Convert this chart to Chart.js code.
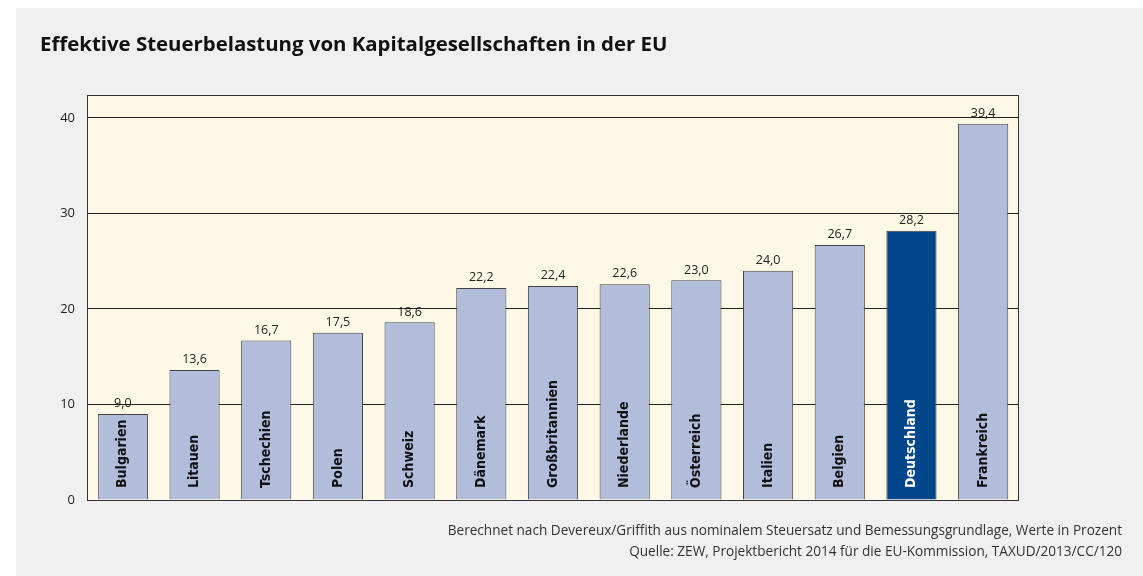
<!DOCTYPE html>
<html>
<head>
<meta charset="utf-8">
<script src="https://cdn.jsdelivr.net/npm/chart.js@4"></script>
<style>
  html, body { margin: 0; padding: 0; background: #ffffff; }
  #wrap { position: absolute; left: 16px; top: 8px; width: 1127px; height: 568px; background: #f0f0f0; }
</style>
</head>
<body>
<div id="wrap"><canvas id="chart" width="1127" height="568"></canvas></div>
<script>
// Daten
const laender = ['Bulgarien', 'Litauen', 'Tschechien', 'Polen', 'Schweiz', 'Dänemark', 'Großbritannien',
    'Niederlande', 'Österreich', 'Italien', 'Belgien', 'Deutschland', 'Frankreich'];
const belastung = [9.0, 13.6, 16.7, 17.5, 18.6, 22.2, 22.4, 22.6, 23.0, 24.0, 26.7, 28.2, 39.4];
const yTicks = [0, 10, 20, 30, 40];
const titel = 'Effektive Steuerbelastung von Kapitalgesellschaften in der EU';
const fussnoten = [
    'Berechnet nach Devereux/Griffith aus nominalem Steuersatz und Bemessungsgrundlage, Werte in Prozent',
    'Quelle: ZEW, Projektbericht 2014 für die EU-Kommission, TAXUD/2013/CC/120'
];

const hellblau = '#b1bddb';
const dunkelblau = '#00468a';
const fontText = "'Open Sans', 'Noto Sans', sans-serif";
const fontSchmal = "'DejaVu Sans Condensed', 'Liberation Sans Narrow', 'Noto Sans', sans-serif";

const fmt = v => v.toFixed(1).replace('.', ',');

// Hintergrund, Rahmen, Titel, Fussnoten und Beschriftungen
const deko = {
    id: 'deko',
    beforeDraw(chart) {
        const { ctx, chartArea: a } = chart;
        ctx.save();
        ctx.fillStyle = '#fef8e7';
        ctx.fillRect(a.left, a.top, a.right - a.left, a.bottom - a.top);
        ctx.fillStyle = '#111';
        ctx.font = "bold 20.4px " + fontText;
        ctx.textBaseline = 'middle';
        ctx.fillText(titel, 24, 37);
        ctx.fillStyle = '#333';
        ctx.font = "13.6px " + fontText;
        ctx.textAlign = 'right';
        ctx.fillText(fussnoten[0], 1106, 523);
        ctx.fillText(fussnoten[1], 1106, 544);
        ctx.restore();
    },
    afterDatasetsDraw(chart) {
        const { ctx, chartArea: a } = chart;
        ctx.save();
        ctx.strokeStyle = '#333';
        ctx.lineWidth = 1;
        ctx.strokeRect(a.left + 0.5, a.top + 0.5, a.right - a.left - 1, a.bottom - a.top);
        const meta = chart.getDatasetMeta(0);
        meta.data.forEach((bar, i) => {
            // Wert ueber dem Balken
            ctx.fillStyle = '#222';
            ctx.font = "12.5px " + fontText;
            ctx.textAlign = 'center';
            ctx.textBaseline = 'bottom';
            ctx.fillText(fmt(belastung[i]), bar.x, bar.y - 4);
            // Land im Balken, senkrecht
            ctx.save();
            ctx.translate(bar.x, a.bottom - 12);
            ctx.rotate(-Math.PI / 2);
            ctx.fillStyle = laender[i] === 'Deutschland' ? '#ffffff' : '#111';
            ctx.font = "bold 14px " + fontSchmal;
            ctx.textAlign = 'left';
            ctx.textBaseline = 'middle';
            ctx.fillText(laender[i], 0, 0);
            ctx.restore();
        });
        ctx.restore();
    }
};

new Chart(document.getElementById('chart'), {
    type: 'bar',
    data: {
        labels: laender,
        datasets: [{
            data: belastung,
            backgroundColor: laender.map(l => l === 'Deutschland' ? dunkelblau : hellblau),
            borderColor: '#444',
            borderWidth: 1,
            borderSkipped: 'bottom',
            categoryPercentage: 1,
            barPercentage: 0.7
        }]
    },
    options: {
        responsive: false,
        animation: false,
        layout: { padding: { left: 0, right: 124, top: 87, bottom: 76 } },
        plugins: {
            legend: { display: false },
            tooltip: { enabled: false },
            title: { display: false }
        },
        scales: {
            x: {
                grid: { display: false },
                border: { display: false },
                ticks: { display: false },
                afterFit(scale) { scale.height = 0; }
            },
            y: {
                min: 0,
                max: 42.4,
                afterBuildTicks(scale) { scale.ticks = yTicks.map(v => ({ value: v })); },
                afterFit(scale) { scale.width = 71; },
                grid: { color: '#222', drawTicks: false, lineWidth: 1 },
                border: { display: false },
                ticks: {
                    padding: 12,
                    color: '#222',
                    font: { family: fontText, size: 13 }
                }
            }
        }
    },
    plugins: [deko]
});
</script>
</body>
</html>
